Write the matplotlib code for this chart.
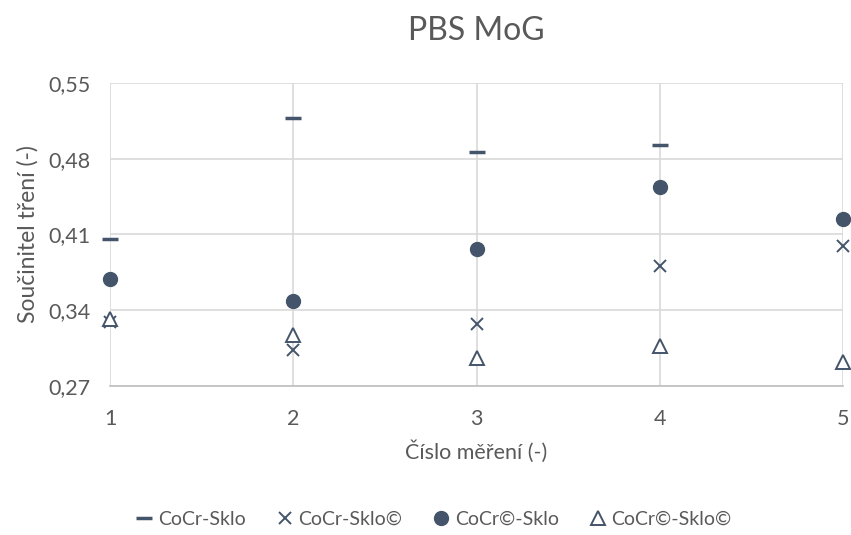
import numpy as np
import matplotlib.pyplot as plt
from matplotlib.ticker import FuncFormatter

# data
mereni = [1, 2, 3, 4, 5]
cocr_sklo = [0.406, 0.518, 0.486, 0.493, np.nan]   # no point at 5
cocr_sklo_c = [0.329, 0.303, 0.327, 0.381, 0.399]
cocr_c_sklo = [0.369, 0.348, 0.396, 0.454, 0.424]
cocr_c_sklo_c = [0.332, 0.317, 0.296, 0.307, 0.292]
yticks = [0.27, 0.34, 0.41, 0.48, 0.55]

col = '#44546A'
txt = '#595959'
plt.rcParams['font.family'] = ['Lato', 'DejaVu Sans']

fig = plt.figure(figsize=(8.51, 5.35), dpi=100)
ax = fig.add_axes([0.1293, 0.279, 0.8613, 0.566])

ax.plot(mereni, cocr_sklo, ls='none', marker='_', ms=11, mew=2.5, color=col, label='CoCr-Sklo')
ax.plot(mereni, cocr_sklo_c, ls='none', marker='x', ms=9, mew=1.4, color=col, label='CoCr-Sklo©')
ax.plot(mereni, cocr_c_sklo, ls='none', marker='o', ms=10, color=col, label='CoCr©-Sklo')
ax.plot(mereni, cocr_c_sklo_c, ls='none', marker='^', ms=10, mew=1.4, mfc='white', color=col, label='CoCr©-Sklo©')

ax.set_xlim(1, 5)
ax.set_ylim(0.27, 0.55)
ax.set_xticks(mereni)
ax.set_yticks(yticks)
ax.yaxis.set_major_formatter(FuncFormatter(lambda v, p: f'{v:.2f}'.replace('.', ',')))
ax.grid(True, color='#D9D9D9', lw=1.2)
ax.set_axisbelow(True)
for s in ['top', 'right']:
    ax.spines[s].set_visible(False)
ax.spines['left'].set_visible(False)
ax.spines['bottom'].set_color('#BFBFBF')
ax.spines['bottom'].set_linewidth(1.2)
ax.tick_params(length=0, labelsize=15.5, labelcolor=txt, pad=17)
ax.tick_params(axis='y', pad=14)
for c in ax.lines:
    c.set_clip_on(False)

ax.set_title('PBS MoG', fontsize=23, color=txt, pad=31)
ax.set_xlabel('Číslo měření (-)', fontsize=15.5, color=txt, labelpad=8)
ax.set_ylabel('Součinitel tření (-)', fontsize=16.5, color=txt, labelpad=7)

fig.legend(loc='lower center', bbox_to_anchor=(0.51, -0.02), ncol=4, frameon=False,
           fontsize=14, labelcolor=txt, handlelength=0.8, handletextpad=0.3, columnspacing=1.6)

fig.savefig('out.png', dpi=100)
